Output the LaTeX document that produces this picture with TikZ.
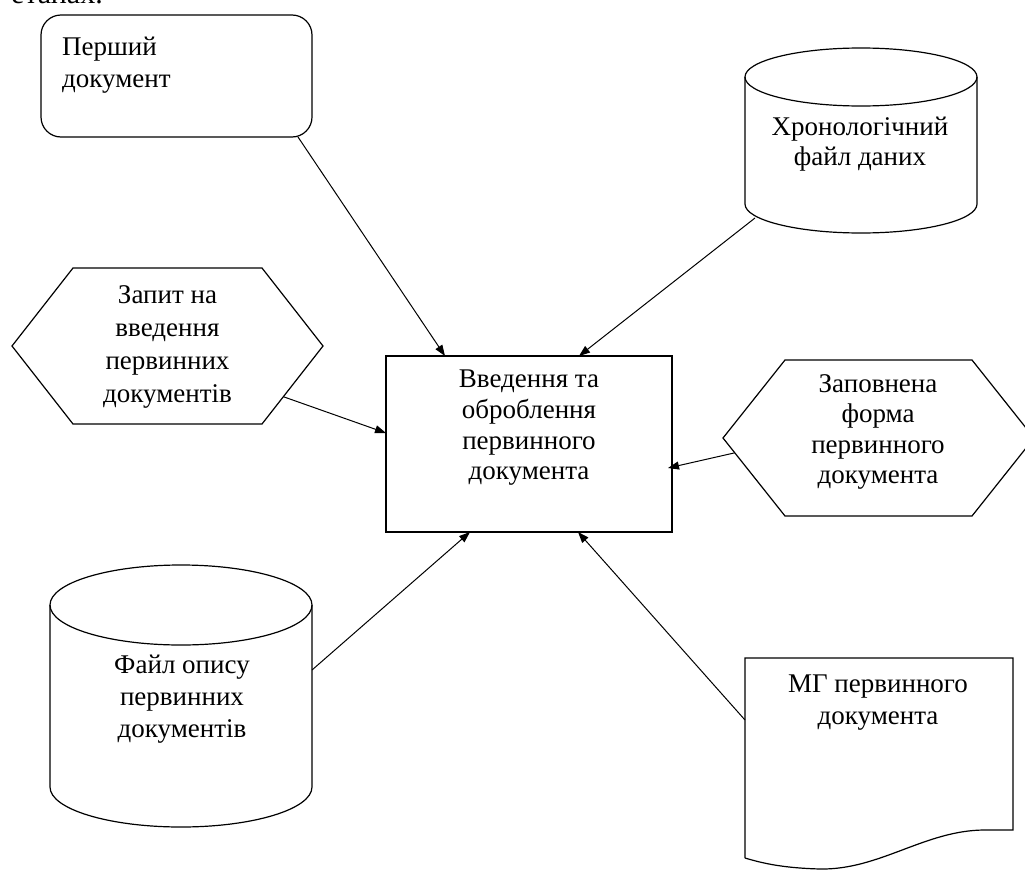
\documentclass[tikz,border=0pt]{standalone}
\usepackage{fontspec}
\setmainfont{Liberation Serif}
\usetikzlibrary{arrows.meta,calc}

\tikzset{
  body/.style={font=\fontsize{27}{32}\selectfont, inner sep=0pt, align=center},
  frame/.style={inner sep=0pt, outer sep=0pt},
  outline/.style={line width=1.2pt, line join=miter},
  flow/.style={line width=1pt, -{Triangle[length=11pt,width=8pt]}},
}

\begin{document}
\begin{tikzpicture}[x=1pt,y=-1pt]
\useasboundingbox (0,0) rectangle (1025,870);
\clip (0,0) rectangle (1025,870);

% tail of the running text above the figure
\node[body, font=\fontsize{30}{34}\selectfont, anchor=base west] (tail) at (11,4) {етапах.};

% central process
\node[draw, line width=1.6pt, frame, minimum width=286pt, minimum height=176pt] (main) at (529,444) {};
\node[body, font=\fontsize{27}{30.7}\selectfont] (maintext) at (529,428)
  {Введення та\\оброблення\\первинного\\документа};

% first document (rounded box)
\node[draw, outline, rounded corners=20pt, frame, minimum width=271pt, minimum height=122pt] (first) at (176.5,76) {};
\node[body, align=left, anchor=west] (firsttext) at (62,65) {Перший\\документ};

% request hexagon
\node[frame, minimum width=311pt, minimum height=156pt] (req) at (167.5,346) {};
\draw[outline] (req.west) -- ([xshift=61pt]req.north west) -- ([xshift=-61pt]req.north east)
  -- (req.east) -- ([xshift=-61pt]req.south east) -- ([xshift=61pt]req.south west) -- cycle;
\node[body, font=\fontsize{27}{33}\selectfont] (reqtext) at (167.5,346.5)
  {Запит на\\введення\\первинних\\документів};

% filled form hexagon
\node[frame, minimum width=311pt, minimum height=156pt] (form) at (878.5,438) {};
\draw[outline] (form.west) -- ([xshift=62pt]form.north west) -- ([xshift=-62pt]form.north east)
  -- (form.east) -- ([xshift=-62pt]form.south east) -- ([xshift=62pt]form.south west) -- cycle;
\node[body, font=\fontsize{27}{30.5}\selectfont] (formtext) at (878,432)
  {Заповнена\\форма\\первинного\\документа};

% chronological data file (cylinder)
\node[frame, minimum width=232pt, minimum height=185pt] (chrono) at (861,140.5) {};
\draw[outline] ([yshift=-29pt]chrono.north) ellipse [x radius=116pt, y radius=29pt];
\draw[outline] ([yshift=-29pt]chrono.north west) -- ([yshift=29pt]chrono.south west)
  arc [start angle=180, end angle=360, x radius=116pt, y radius=29pt]
  -- ([yshift=-29pt]chrono.north east);
\node[body, font=\fontsize{27}{30}\selectfont] (chronotext) at (860,144)
  {Хронологічний\\файл даних};

% description file (cylinder)
\node[frame, minimum width=262pt, minimum height=262pt] (desc) at (181,696) {};
\draw[outline] ([yshift=-40pt]desc.north) ellipse [x radius=131pt, y radius=40pt];
\draw[outline] ([yshift=-40pt]desc.north west) -- ([yshift=40pt]desc.south west)
  arc [start angle=180, end angle=360, x radius=131pt, y radius=40pt]
  -- ([yshift=-40pt]desc.north east);
\node[body] (desctext) at (182,699) {Файл опису\\первинних\\документів};

% machine record (document shape)
\node[frame, minimum width=268pt, minimum height=200pt] (doc) at (879,758) {};
\draw[outline] (doc.south west) -- (doc.north west) -- (doc.north east)
  -- ($(doc.south west)+(268,-28)$) -- ($(doc.south west)+(240,-28)$)
  .. controls ($(doc.south west)+(180,-28)$) and ($(doc.south west)+(135,12)$) .. ($(doc.south west)+(75,11)$)
  .. controls ($(doc.south west)+(40,10)$) and ($(doc.south west)+(20,6)$) .. (doc.south west);
\node[body] (doctext) at (878,703) {МГ первинного\\документа};

% connectors into the process
\draw[flow] ([xshift=-14pt]first.south east) -- ([xshift=59pt]main.north west);
\draw[flow] ([xshift=10pt,yshift=15pt]chrono.south west) -- ([xshift=-93pt]main.north east);
\draw[flow] ($(req.east)!0.65!([xshift=-61pt]req.south east)$) -- ([yshift=11pt]main.west);
\draw[flow] ($(form.west)!0.19!([xshift=62pt]form.south west)$) -- ([xshift=-4pt,yshift=-24pt]main.east);
\draw[flow] ([yshift=26pt]desc.east) -- ([xshift=84pt]main.south west);
\draw[flow] ([yshift=38pt]doc.west) -- ([xshift=192pt]main.south west);
\end{tikzpicture}
\end{document}
